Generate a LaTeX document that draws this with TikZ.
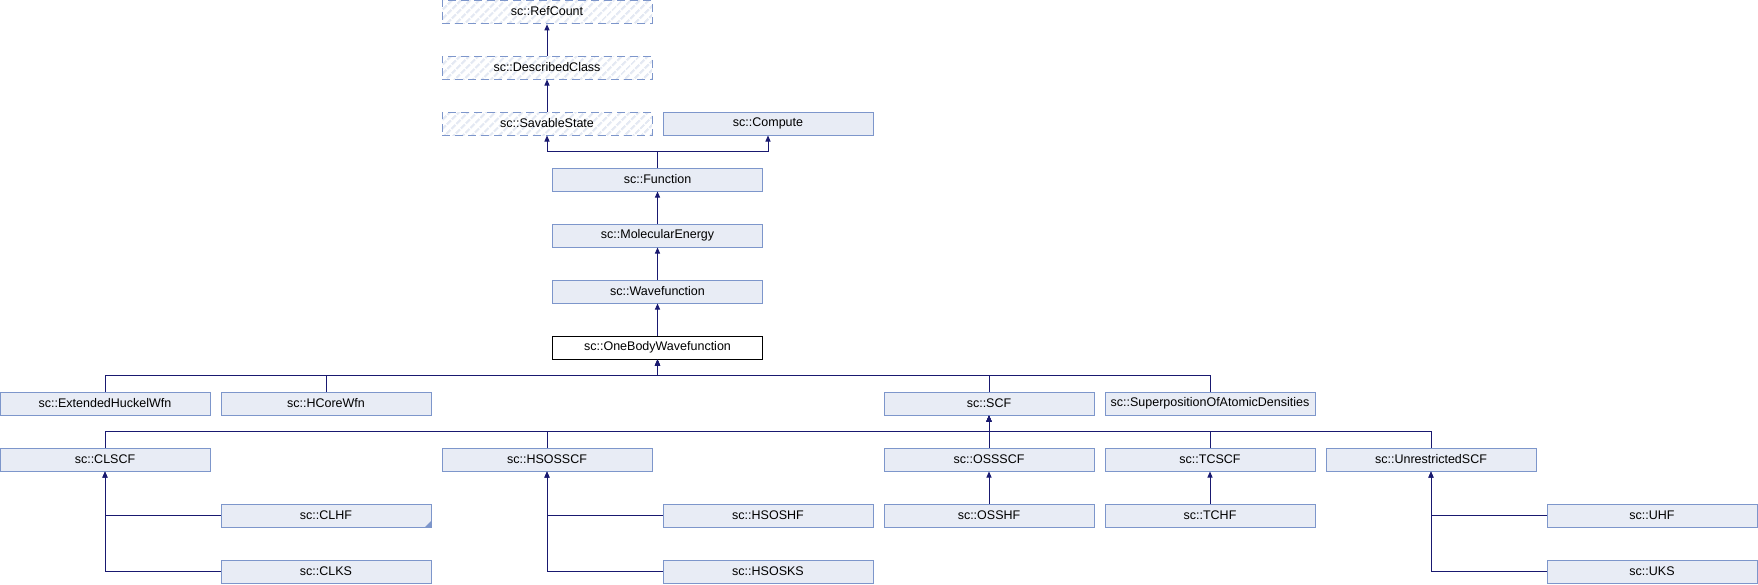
\documentclass[tikz,border=0pt]{standalone}
\usepackage{fontspec}
\setmainfont{Liberation Sans}
\usetikzlibrary{arrows.meta,patterns.meta}
\definecolor{fillc}{HTML}{E8ECF5}
\definecolor{bordc}{HTML}{7D96CB}
\definecolor{edgec}{HTML}{191970}
\definecolor{hatchc}{HTML}{E4E9F3}
\tikzset{
  box/.style={draw=bordc, fill=fillc, line width=1pt, minimum width=210pt, minimum height=23pt, inner sep=0pt, font=\fontsize{12.5}{14}\selectfont},
  mainbox/.style={box, draw=black, fill=white},
  extbox/.style={draw=bordc, line width=1pt, dash pattern=on 8pt off 5pt, pattern={Lines[angle=45,distance=6.5pt,line width=2.6pt]}, pattern color=hatchc, minimum width=210pt, minimum height=23pt, inner sep=0pt, font=\fontsize{12.5}{14}\selectfont},
  edge/.style={draw=edgec, line width=1pt, -{Triangle[length=6pt,width=5pt]}},
}
\begin{document}
\begin{tikzpicture}[x=1pt,y=-1pt]
\fill[white] (0,0) rectangle (1758,584);
\useasboundingbox (0,0) rectangle (1758,584);
% row 0-2
\node[extbox] (rc) at (547,11.5) {sc::RefCount};
\node[extbox] (dc) at (547,67.5) {sc::DescribedClass};
\node[extbox] (ss) at (547,123.5) {sc::SavableState};
\node[box] (cp) at (768,123.5) {sc::Compute};
% row 3-6
\node[box] (fn) at (657.5,179.5) {sc::Function};
\node[box] (me) at (657.5,235.5) {sc::MolecularEnergy};
\node[box] (wf) at (657.5,291.5) {sc::Wavefunction};
\node[mainbox] (ob) at (657.5,347.5) {sc::OneBodyWavefunction};
% row 7
\node[box] (eh) at (105,403.5) {sc::ExtendedHuckelWfn};
\node[box] (hc) at (326,403.5) {sc::HCoreWfn};
\node[box] (scf) at (989,403.5) {sc::SCF};
\node[box] (sp) at (1210,403.5) {sc::SuperpositionOfAtomicDensities};
% row 8
\node[box] (cl) at (105,459.5) {sc::CLSCF};
\node[box] (hs) at (547,459.5) {sc::HSOSSCF};
\node[box] (os) at (989,459.5) {sc::OSSSCF};
\node[box] (tc) at (1210,459.5) {sc::TCSCF};
\node[box] (un) at (1431,459.5) {sc::UnrestrictedSCF};
% row 9
\node[box] (clhf) at (326,515.5) {sc::CLHF};
\node[box] (hshf) at (768,515.5) {sc::HSOSHF};
\node[box] (oshf) at (989,515.5) {sc::OSSHF};
\node[box] (tchf) at (1210,515.5) {sc::TCHF};
\node[box] (uhf) at (1652,515.5) {sc::UHF};
% row 10
\node[box] (clks) at (326,571.5) {sc::CLKS};
\node[box] (hsks) at (768,571.5) {sc::HSOSKS};
\node[box] (uks) at (1652,571.5) {sc::UKS};
% truncation marker
\fill[bordc] ([xshift=-0.5pt,yshift=0.5pt]clhf.south east) -- ++(-6,0) -- ++(6,-6) -- cycle;
% edges
\draw[edge] (dc.north) -- (rc.south);
\draw[edge] (ss.north) -- (dc.south);
\draw[edge] (fn.north) -- ++(0,-16) -| (ss.south);
\draw[edge] (fn.north) -- ++(0,-16) -| (cp.south);
\draw[edge] (me.north) -- (fn.south);
\draw[edge] (wf.north) -- (me.south);
\draw[edge] (ob.north) -- (wf.south);
\foreach \c in {eh,hc,scf,sp}
  \draw[edge] (\c.north) -- ++(0,-16) -| (ob.south);
\foreach \c in {cl,hs,os,tc,un}
  \draw[edge] (\c.north) -- ++(0,-16) -| (scf.south);
\draw[edge] (clhf.west) -| (cl.south);
\draw[edge] (clks.west) -| (cl.south);
\draw[edge] (hshf.west) -| (hs.south);
\draw[edge] (hsks.west) -| (hs.south);
\draw[edge] (oshf.north) -- (os.south);
\draw[edge] (tchf.north) -- (tc.south);
\draw[edge] (uhf.west) -| (un.south);
\draw[edge] (uks.west) -| (un.south);
\end{tikzpicture}
\end{document}
